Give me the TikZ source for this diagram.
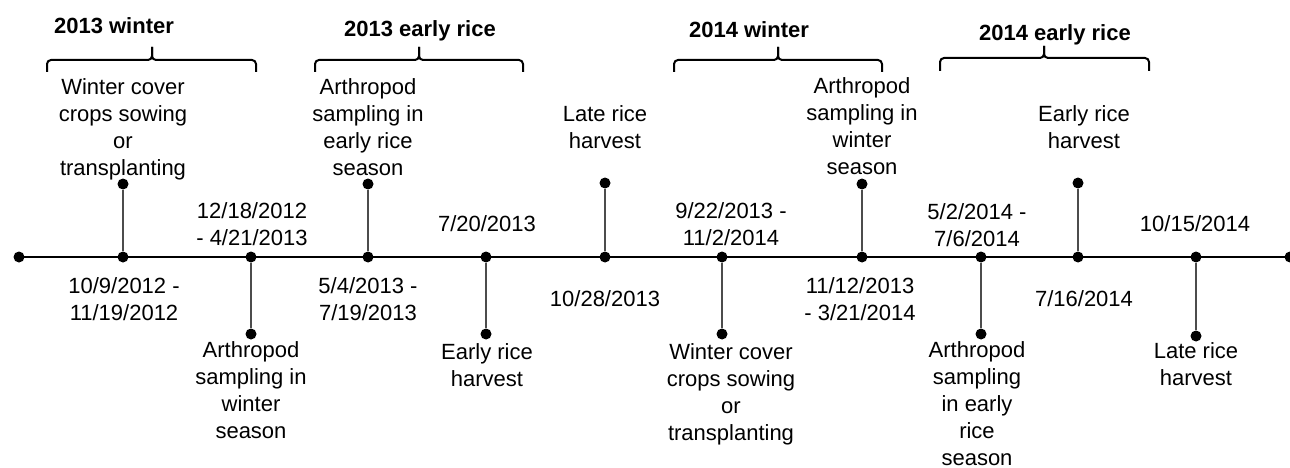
\documentclass[tikz,border=0pt]{standalone}
\usepackage{fontspec}
\setmainfont{Liberation Sans}
\begin{document}
\begin{tikzpicture}[x=1pt,y=-1pt,
  lbl/.style={font=\fontsize{22}{27}\selectfont, align=center, inner sep=0pt, anchor=north},
  season/.style={font=\bfseries\fontsize{22}{27}\selectfont, inner sep=0pt, anchor=north},
  dot/.style={circle, fill=black, inner sep=0pt, minimum size=11pt},
  axisline/.style={line width=2.4pt},
  stem/.style={line width=1.5pt, draw=black!70},
  bracepath/.style={line width=2pt, rounded corners=4pt}]
\useasboundingbox (0,0) rectangle (1290,468);
% axis dots
\node[dot] (a0) at (19,257) {};
\node[dot] (t1) at (123,257) {};
\node[dot] (t2) at (251,257) {};
\node[dot] (t3) at (368,257) {};
\node[dot] (t4) at (486,257) {};
\node[dot] (t5) at (605,257) {};
\node[dot] (t6) at (722,257) {};
\node[dot] (t7) at (862,257) {};
\node[dot] (t8) at (981,257) {};
\node[dot] (t9) at (1078,257) {};
\node[dot] (t10) at (1196,257) {};
\node[dot] (aR) at (1290,257) {};
\draw[axisline] (a0.center) -- (aR.center);
% stem end dots
\node[dot] (u1) at (123,184) {};
\node[dot] (d2) at (251,334) {};
\node[dot] (u3) at (368,184) {};
\node[dot] (d4) at (486,334) {};
\node[dot] (u5) at (605,183) {};
\node[dot] (d6) at (722,334) {};
\node[dot] (u7) at (862,184) {};
\node[dot] (d8) at (981,334) {};
\node[dot] (u9) at (1078,183) {};
\node[dot] (d10) at (1196,336) {};
\draw[stem] (t1) -- (u1);
\draw[stem] (t2) -- (d2);
\draw[stem] (t3) -- (u3);
\draw[stem] (t4) -- (d4);
\draw[stem] (t5) -- (u5);
\draw[stem] (t6) -- (d6);
\draw[stem] (t7) -- (u7);
\draw[stem] (t8) -- (d8);
\draw[stem] (t9) -- (u9);
\draw[stem] (t10) -- (d10);
% event labels above
\node[lbl] (e1) at (123,78) {Winter cover\\crops sowing\\or\\transplanting};
\node[lbl] (e3) at (368,78) {Arthropod\\sampling in\\early rice\\season};
\node[lbl] (e5) at (605,105) {Late rice\\harvest};
\node[lbl] (e7) at (862,77) {Arthropod\\sampling in\\winter\\season};
\node[lbl] (e9) at (1084,105) {Early rice\\harvest};
% dates below axis
\node[lbl] (x1) at (124,277) {10/9/2012 -\\11/19/2012};
\node[lbl] (x3) at (368,277) {5/4/2013 -\\7/19/2013};
\node[lbl] (x5) at (605,290) {10/28/2013};
\node[lbl] (x7) at (860,277) {11/12/2013\\- 3/21/2014};
\node[lbl] (x9) at (1084,290) {7/16/2014};
% dates above axis
\node[lbl] (y2) at (252,202) {12/18/2012\\- 4/21/2013};
\node[lbl] (y4) at (487,215) {7/20/2013};
\node[lbl] (y6) at (731,202) {9/22/2013 -\\11/2/2014};
\node[lbl] (y8) at (977,203) {5/2/2014 -\\7/6/2014};
\node[lbl] (y10) at (1195,215) {10/15/2014};
% event labels below
\node[lbl] (e2) at (251,341) {Arthropod\\sampling in\\winter\\season};
\node[lbl] (e4) at (487,343) {Early rice\\harvest};
\node[lbl] (e6) at (731,343) {Winter cover\\crops sowing\\or\\transplanting};
\node[lbl] (e8) at (977,341) {Arthropod\\sampling\\in early\\rice\\season};
\node[lbl] (e10) at (1196,342) {Late rice\\harvest};
% season titles
\node[season] (s1) at (114,17) {2013 winter};
\node[season] (s2) at (420,20) {2013 early rice};
\node[season] (s3) at (749,21) {2014 winter};
\node[season] (s4) at (1055,24) {2014 early rice};
% braces
\draw[bracepath] (47,72) |- (152,60) -- (152,47);
\draw[bracepath] (256,72) |- (152,60) -- (152,47);
\draw[bracepath] (315,72) |- (419,60) -- (419,47);
\draw[bracepath] (523,72) |- (419,60) -- (419,47);
\draw[bracepath] (674,72) |- (778,60) -- (778,47);
\draw[bracepath] (882,72) |- (778,60) -- (778,47);
\draw[bracepath] (940,71) |- (1044,58) -- (1044,46);
\draw[bracepath] (1149,71) |- (1044,58) -- (1044,46);
\end{tikzpicture}
\end{document}
